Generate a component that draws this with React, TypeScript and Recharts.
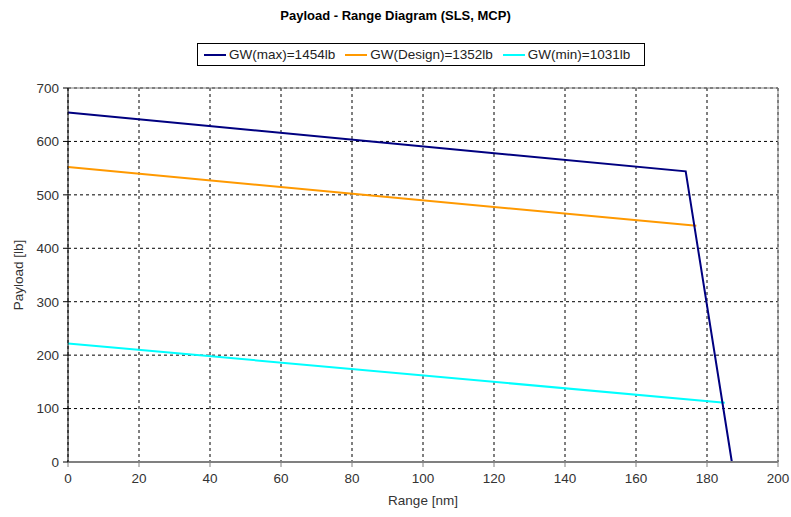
import React from 'react';
import { LineChart, Line, XAxis, YAxis, CartesianGrid, ReferenceLine } from 'recharts';

// range [nm] / payload [lb] break points
const rangeMax = [0, 174, 187];
const payloadMax = [654, 544, 0];
const rangeDesign = [0, 177];
const payloadDesign = [552, 442];
const rangeMin = [0, 185];
const payloadMin = [222, 111];

const xTicks = [0, 20, 40, 60, 80, 100, 120, 140, 160, 180, 200];
const yTicks = [0, 100, 200, 300, 400, 500, 600, 700];

const seriesNames = ['GW(max)=1454lb', 'GW(Design)=1352lb', 'GW(min)=1031lb'];
const seriesColors = ['#000080', '#FF9900', '#00FFFF'];

const toPoints = (xs: number[], ys: number[]) => xs.map((x, i) => ({ x, y: ys[i] }));

const FONT = '"Liberation Sans", Arial, sans-serif';

export default function App() {
  const dataMax = toPoints(rangeMax, payloadMax);
  const dataDesign = toPoints(rangeDesign, payloadDesign);
  const dataMin = toPoints(rangeMin, payloadMin);

  return (
    <div style={{ position: 'absolute', left: 0, top: 0, width: 791, height: 517, background: '#fff', fontFamily: FONT }}>
      <div style={{ position: 'absolute', top: 8, left: 0, width: 791, textAlign: 'center', fontWeight: 'bold', fontSize: 13, color: '#000' }}>
        Payload - Range Diagram (SLS, MCP)
      </div>

      <div
        style={{
          position: 'absolute', left: 197, top: 43, width: 448, height: 23,
          border: '1px solid #000', display: 'flex', alignItems: 'center',
          fontSize: 13.5, color: '#222', boxSizing: 'border-box', paddingLeft: 6,
        }}
      >
        {seriesNames.map((name, i) => (
          <div key={name} style={{ display: 'flex', alignItems: 'center', marginRight: 10 }}>
            <div style={{ width: 22, height: 2, background: seriesColors[i], marginRight: 3 }} />
            <span>{name}</span>
          </div>
        ))}
      </div>

      <div
        style={{
          position: 'absolute', left: 18, top: 275, transform: 'translate(-50%, -50%) rotate(-90deg)',
          fontSize: 13.5, color: '#333', whiteSpace: 'nowrap',
        }}
      >
        Payload [lb]
      </div>
      <div style={{ position: 'absolute', left: 423, top: 500, transform: 'translate(-50%, -50%)', fontSize: 13.5, color: '#333' }}>
        Range [nm]
      </div>

      <LineChart width={791} height={517} margin={{ top: 88, right: 13, bottom: 25, left: 18 }}>
        <CartesianGrid stroke="#000" strokeDasharray="3 3" />
        <XAxis
          type="number"
          dataKey="x"
          domain={[0, 200]}
          ticks={xTicks}
          height={30}
          axisLine={{ stroke: '#808080', strokeWidth: 2 }}
          tickLine={{ stroke: '#808080' }}
          tick={{ fill: '#333', fontSize: 13.5, fontFamily: FONT }}
          tickSize={5}
          tickMargin={6}
        />
        <YAxis
          type="number"
          dataKey="y"
          domain={[0, 700]}
          ticks={yTicks}
          width={50}
          axisLine={{ stroke: '#000' }}
          tickLine={{ stroke: '#000' }}
          tick={{ fill: '#333', fontSize: 13.5, fontFamily: FONT }}
          tickSize={5}
          tickMargin={4}
        />
        <ReferenceLine y={700} stroke="#808080" />
        <ReferenceLine x={200} stroke="#808080" />
        <Line data={dataDesign} dataKey="y" stroke={seriesColors[1]} strokeWidth={2} dot={false} isAnimationActive={false} />
        <Line data={dataMin} dataKey="y" stroke={seriesColors[2]} strokeWidth={2} dot={false} isAnimationActive={false} />
        <Line data={dataMax} dataKey="y" stroke={seriesColors[0]} strokeWidth={2} dot={false} isAnimationActive={false} />
      </LineChart>
    </div>
  );
}
